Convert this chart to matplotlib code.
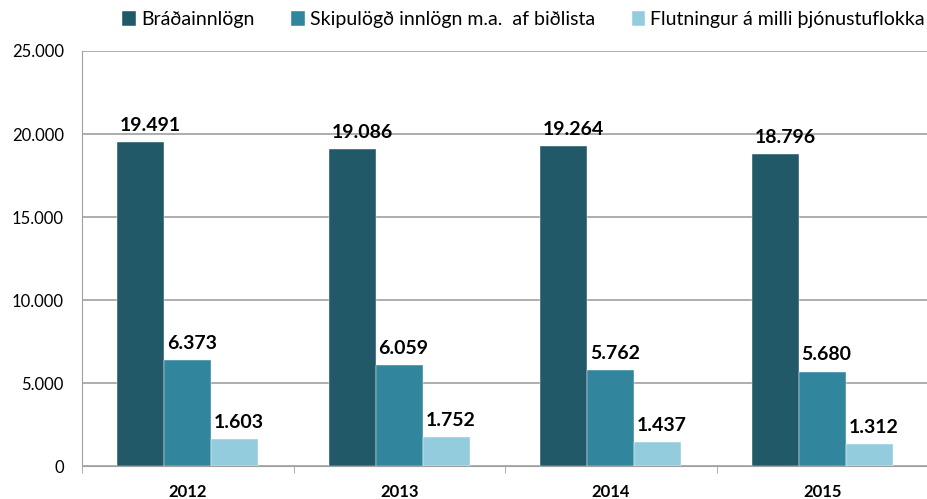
import matplotlib.pyplot as plt
import numpy as np
from matplotlib.ticker import FuncFormatter

years = ["2012", "2013", "2014", "2015"]
series_names = ["Bráðainnlögn", "Skipulögð innlögn m.a.  af biðlista", "Flutningur á milli þjónustuflokka"]
bradainnlogn = [19491, 19086, 19264, 18796]
skipulogd = [6373, 6059, 5762, 5680]
flutningur = [1603, 1752, 1437, 1312]
colors = ["#215968", "#31859C", "#93CDDD"]

plt.rcParams['font.family'] = ['Lato', 'DejaVu Sans']

fig = plt.figure(figsize=(9.28, 4.99), dpi=100)
ax = fig.add_axes([0.0884, 0.0661, 0.9116, 0.8317])
ax.set_axisbelow(True)

x = np.arange(len(years))
w = 0.222
all_series = [bradainnlogn, skipulogd, flutningur]
for i, vals in enumerate(all_series):
    pos = x + (i - 1) * w
    ax.bar(pos, vals, w, color=colors[i], label=series_names[i], zorder=3,
           edgecolor='white', linewidth=0.3)
    for p, v in zip(pos, vals):
        lbl = "{:,}".format(v).replace(",", ".")
        ax.annotate(lbl, (p - w / 2, v), xytext=(2, 6), textcoords="offset points",
                    ha='left', va='bottom', fontsize=14, fontweight='bold', color='black')

ax.set_xlim(-0.5, len(years) - 0.5)
ax.set_ylim(0, 25000)
ax.set_yticks(range(0, 25001, 5000))
ax.yaxis.set_major_formatter(FuncFormatter(lambda v, _: "{:,}".format(int(v)).replace(",", ".")))
ax.grid(axis='y', color='#A0A0A0', linewidth=1.2)
ax.tick_params(axis='y', length=0, labelsize=12, pad=13)

ax.set_xticks(x)
ax.set_xticklabels(years, fontweight='bold', fontsize=12)
ax.tick_params(axis='x', length=0, pad=13)
ax.set_xticks(np.arange(-0.5, len(years)), minor=True)
ax.tick_params(axis='x', which='minor', length=5, color='#A0A0A0')

for s in ['top', 'right']:
    ax.spines[s].set_visible(False)
ax.spines['left'].set_color('#A0A0A0')
ax.spines['bottom'].set_color('#A0A0A0')

fig.legend(loc='upper left', bbox_to_anchor=(0.113, 1.014), ncol=3, frameon=False,
           fontsize=14, handlelength=0.7, handleheight=0.85, handletextpad=0.25,
           columnspacing=1.9)

fig.savefig("out.png", dpi=100)
